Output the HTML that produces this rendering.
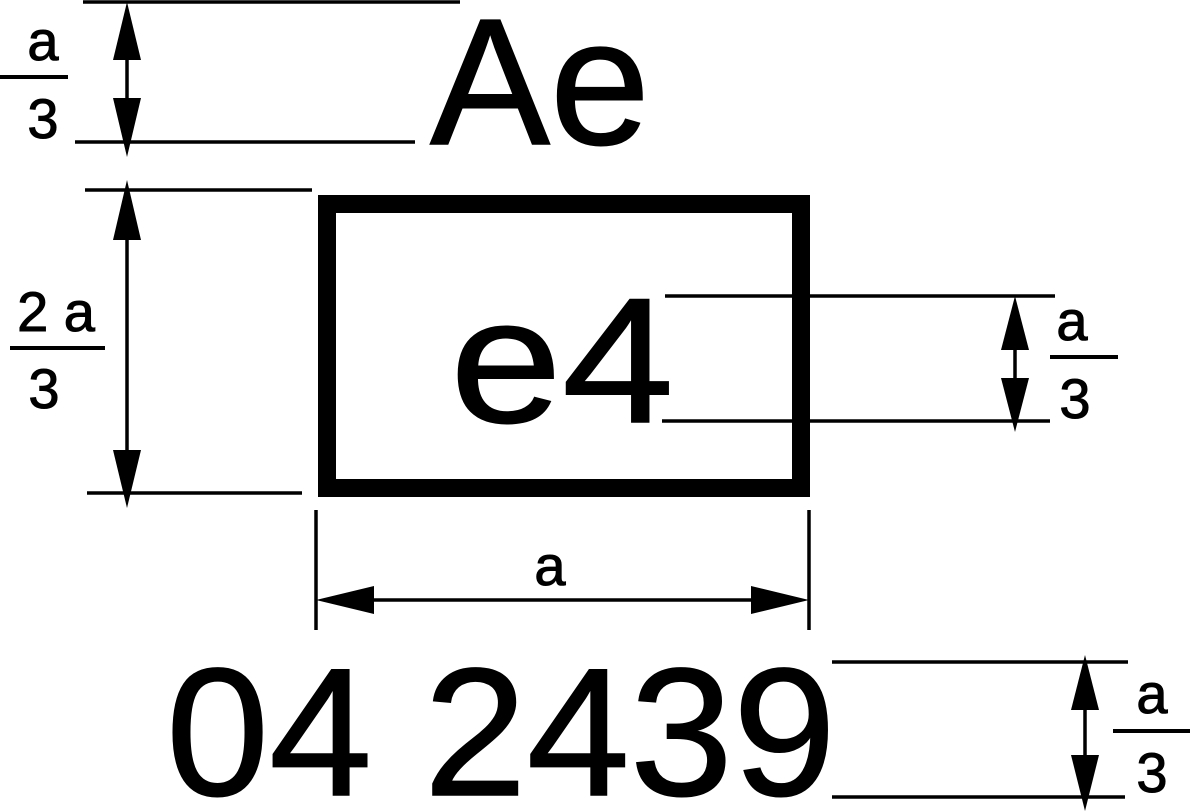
<!DOCTYPE html>
<html><head><meta charset="utf-8"><style>
html,body{margin:0;padding:0;background:#fff;width:1193px;height:811px;overflow:hidden}
svg{display:block}
text{font-family:"Liberation Sans",Arial,sans-serif;fill:#000}
</style></head><body>
<svg width="1193" height="811" viewBox="0 0 1193 811" xmlns="http://www.w3.org/2000/svg">
<g stroke="#000" stroke-width="3.5" fill="none">
<line x1="83" y1="2" x2="460" y2="2"/>
<line x1="75" y1="142" x2="415" y2="142"/>
<line x1="127" y1="40" x2="127" y2="120"/>
<line x1="85" y1="190" x2="312" y2="190"/>
<line x1="87" y1="493" x2="302" y2="493"/>
<line x1="127" y1="230" x2="127" y2="460"/>
<line x1="665" y1="296" x2="1055" y2="296"/>
<line x1="662" y1="421" x2="1050" y2="421"/>
<line x1="1015" y1="330" x2="1015" y2="400"/>
<line x1="316" y1="510" x2="316" y2="630"/>
<line x1="809" y1="510" x2="809" y2="630"/>
<line x1="350" y1="600" x2="775" y2="600"/>
<line x1="832" y1="662" x2="1128" y2="662"/>
<line x1="832" y1="797" x2="1125" y2="797"/>
<line x1="1085" y1="690" x2="1085" y2="780"/>
</g>
<g stroke="#000" stroke-width="4">
<line x1="0" y1="77" x2="68" y2="77"/>
<line x1="10" y1="348" x2="105" y2="348"/>
<line x1="1050" y1="357" x2="1118" y2="357"/>
<line x1="1113" y1="731" x2="1190" y2="731"/>
</g>
<rect x="327" y="204" width="474" height="284" fill="none" stroke="#000" stroke-width="18"/>
<g fill="#000">
<polygon points="127,2 113,60 141,60"/>
<polygon points="127,157 113,98 141,98"/>
<polygon points="127,180 113,240 141,240"/>
<polygon points="127,508 113,450 141,450"/>
<polygon points="1015,296 1001,350 1029,350"/>
<polygon points="1015,432 1001,378 1029,378"/>
<polygon points="316,600 374,586 374,614"/>
<polygon points="809,600 751,586 751,614"/>
<polygon points="1085,655 1071,710 1099,710"/>
<polygon points="1085,811 1071,755 1099,755"/>
</g>
<g stroke="#000" stroke-width="1.5">
<text x="430" y="144" font-size="180" textLength="220" lengthAdjust="spacingAndGlyphs">Ae</text>
<text x="450" y="422" font-size="178" textLength="224" lengthAdjust="spacingAndGlyphs">e4</text>
<text x="166" y="795" font-size="182" textLength="670" lengthAdjust="spacingAndGlyphs">04 2439</text>
</g>
<g font-size="56" text-anchor="middle" stroke="#000" stroke-width="1">
<text x="43" y="60">a</text>
<text x="43" y="138">3</text>
<text x="56" y="331">2 a</text>
<text x="44" y="408">3</text>
<text x="1072" y="340">a</text>
<text x="1075" y="418">3</text>
<text x="550" y="585">a</text>
<text x="1152" y="713">a</text>
<text x="1152" y="792">3</text>
</g>
</svg>
</body></html>
